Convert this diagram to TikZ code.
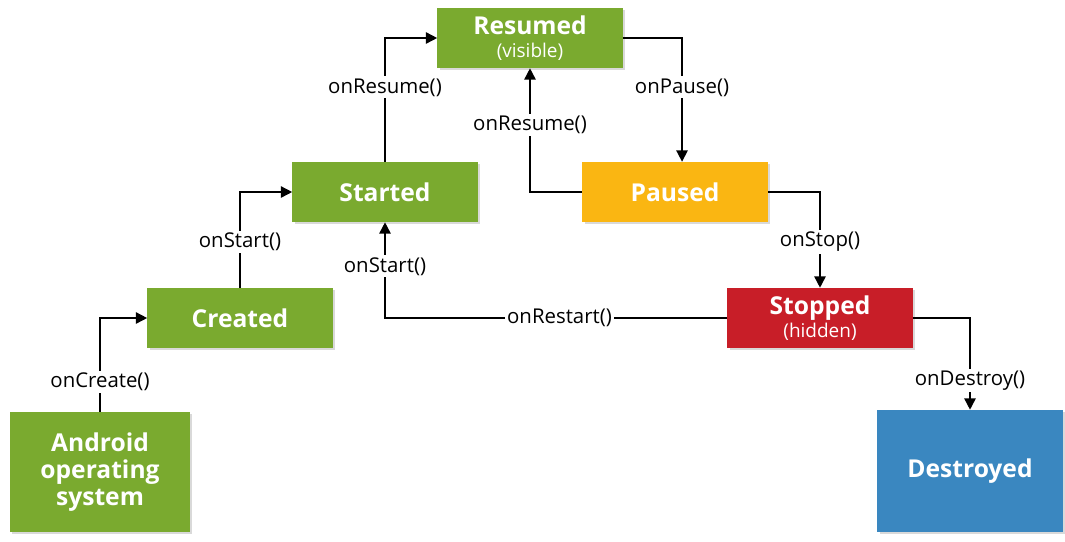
\documentclass[tikz,border=0pt]{standalone}
\usepackage{fontspec}
\setmainfont{Open Sans}
\usepackage{tikz}
\usetikzlibrary{arrows.meta,shadows}

\definecolor{andgreen}{RGB}{122,170,47}
\definecolor{andorange}{RGB}{250,182,18}
\definecolor{andred}{RGB}{200,30,40}
\definecolor{andblue}{RGB}{58,135,192}

\begin{document}
\begin{tikzpicture}[x=0.025cm,y=-0.025cm,
                state/.style={rectangle,minimum width=4.625cm,minimum height=1.5cm,text=white,
                        font=\fontsize{17.5}{19}\selectfont\bfseries,align=center,inner sep=2pt,
                        drop shadow={shadow xshift=1.5pt,shadow yshift=-1.5pt,opacity=0.3}},
                sub/.style={font=\fontsize{13.5}{15}\selectfont},
                flow/.style={draw,line width=1.1pt,-{Triangle[length=8pt,width=8pt]}},
                lbl/.style={fill=white,inner sep=1.5pt,font=\fontsize{14.5}{16}\selectfont}]
                \useasboundingbox (0,0) rectangle (1065,541);

                \node[state,fill=andgreen,minimum width=4.5cm,minimum height=3cm] (os) at (100,472) {Android\\operating\\system};
                \node[state,fill=andgreen] (created) at (240,318) {Created};
                \node[state,fill=andgreen] (started) at (385,192) {Started};
                \node[state,fill=andgreen] (resumed) at (530,38) {Resumed\\[-3pt]{\fontsize{13.5}{15}\selectfont\mdseries(visible)}};
                \node[state,fill=andorange] (paused) at (675,192) {Paused};
                \node[state,fill=andred] (stopped) at (820,318) {Stopped\\[-3pt]{\fontsize{13.5}{15}\selectfont\mdseries(hidden)}};
                \node[state,fill=andblue,minimum height=3.05cm] (destroyed) at (970,471) {Destroyed};

                \path[flow] (os.north) |- node[lbl,pos=0.16] {onCreate()} (created.west);
                \path[flow] (created.north) |- node[lbl,pos=0.24] {onStart()} (started.west);
                \path[flow] (started.north) |- node[lbl,pos=0.30] {onResume()} (resumed.west);
                \path[flow] (resumed.east) -| node[lbl,pos=0.70] {onPause()} ([xshift=5]paused.north);
                \path[flow] (paused.west) -| node[lbl,pos=0.77] {onResume()} (resumed.south);
                \path[flow] (paused.east) -| node[lbl,pos=0.76] {onStop()} (stopped.north);
                \path[flow] (stopped.west) -| node[lbl,pos=0.245] {onRestart()} node[lbl,pos=0.77] {onStart()} (started.south);
                \path[flow] (stopped.east) -| node[lbl,pos=0.84] {onDestroy()} (destroyed.north);

            \end{tikzpicture}
\end{document}
